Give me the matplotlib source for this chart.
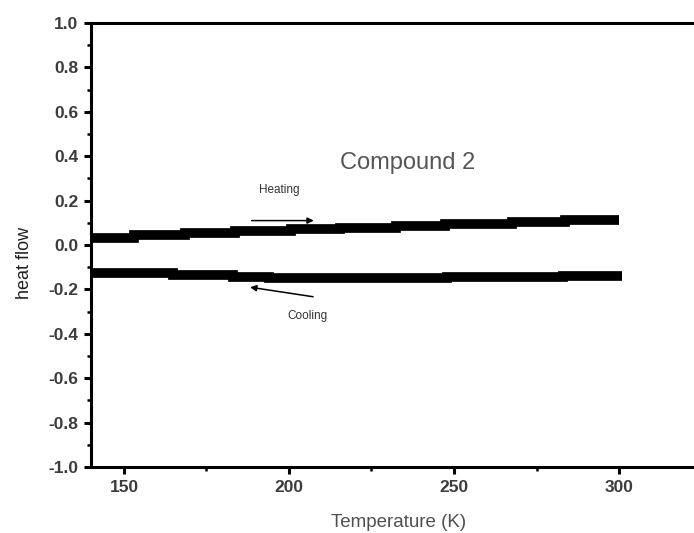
import matplotlib
matplotlib.use("Agg")
import matplotlib.pyplot as plt
from matplotlib.ticker import MultipleLocator

plt.rcParams['font.family'] = ['Liberation Sans', 'DejaVu Sans']

# DSC traces, stepwise readings (temperature in K, heat flow)
heat_T = [140, 153, 168.5, 183.6, 200.6, 215.5, 232.4, 247.3, 267.6, 283.6, 300]
heat_v = [0.030, 0.043, 0.053, 0.062, 0.070, 0.078, 0.087, 0.096, 0.105, 0.114, 0.114]

cool_T = [140, 165, 183, 194, 248, 283, 301]
cool_v = [-0.125, -0.135, -0.142, -0.148, -0.143, -0.140, -0.140]

x_ticks = [150, 200, 250, 300]
y_ticks = [-1.0, -0.8, -0.6, -0.4, -0.2, 0.0, 0.2, 0.4, 0.6, 0.8, 1.0]
y_labels = ['-1.0', '-0.8', '-0.6', '-0.4', '-0.2', '0.0', '0.2', '0.4', '0.6', '0.8', '1.0']

fig = plt.figure(figsize=(6.94, 5.33), dpi=100)
# axes run off the right edge of the figure
ax = fig.add_axes([0.1311, 0.1238, 0.9035, 0.833])

ax.plot(heat_T, heat_v, color='black', lw=7, drawstyle='steps-post',
        solid_capstyle='butt', solid_joinstyle='miter')
ax.plot(cool_T, cool_v, color='black', lw=7, drawstyle='steps-post',
        solid_capstyle='butt', solid_joinstyle='miter')

ax.set_xlim(140, 330)
ax.set_ylim(-1.0, 1.0)
ax.set_xticks(x_ticks)
ax.set_yticks(y_ticks)
ax.set_yticklabels(y_labels)
ax.xaxis.set_minor_locator(MultipleLocator(25))
ax.yaxis.set_minor_locator(MultipleLocator(0.1))

for s in ax.spines.values():
    s.set_linewidth(2.2)
ax.tick_params(which='major', direction='out', length=5, width=2.2,
               labelsize=12.5, labelcolor='#3c3c3c', pad=4)
ax.tick_params(which='minor', direction='out', length=3, width=1.8)
for lab in ax.get_xticklabels() + ax.get_yticklabels():
    lab.set_fontweight('bold')

ax.set_xlabel('Temperature (K)', fontsize=13.5, color='#505050')
ax.xaxis.set_label_coords(0.49, -0.105)
ax.set_ylabel('heat flow', fontsize=13, color='#202020')
ax.yaxis.set_label_coords(-0.092, 0.46)

ax.text(236, 0.37, 'Compound 2', fontsize=17, color='#555555',
        ha='center', va='center')
ax.text(197, 0.25, 'Heating', fontsize=8.5, color='#333333',
        ha='center', va='center')
ax.text(205.5, -0.32, 'Cooling', fontsize=8.5, color='#333333',
        ha='center', va='center')

ax.annotate('', xy=(207.5, 0.11), xytext=(188.7, 0.11),
            arrowprops=dict(arrowstyle='-|>', color='black', lw=1.1,
                            mutation_scale=9, shrinkA=0, shrinkB=0))
ax.annotate('', xy=(188.2, -0.19), xytext=(207.3, -0.233),
            arrowprops=dict(arrowstyle='-|>', color='black', lw=1.1,
                            mutation_scale=9, shrinkA=0, shrinkB=0))

fig.savefig('out.png', dpi=100)
